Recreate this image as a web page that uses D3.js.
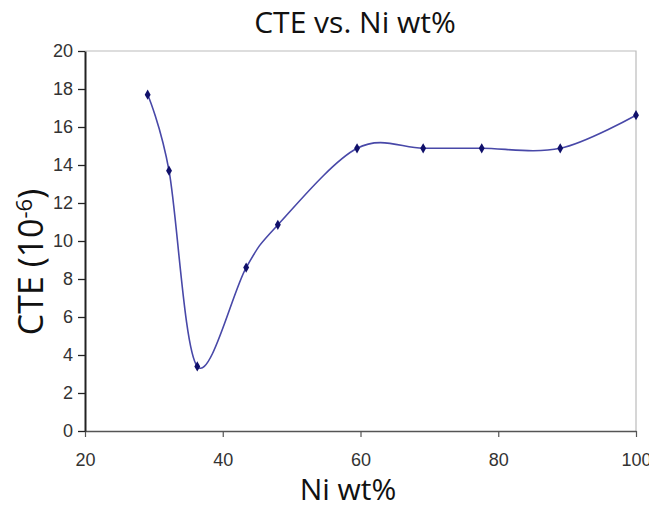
<!DOCTYPE html>
<html><head><meta charset="utf-8">
<script src="https://cdn.jsdelivr.net/npm/d3@7"></script>
<style>body{margin:0;background:#fff}svg{display:block}</style>
</head><body>
<svg id="c" width="649" height="508"></svg>
<script>
const niWt = [29.1, 32.2, 36.3, 43.4, 48.0, 59.5, 69.1, 77.6, 89.0, 100];
const cte  = [17.7, 13.7, 3.4, 8.6, 10.85, 14.88, 14.88, 14.88, 14.88, 16.62];
const xTicks = [20, 40, 60, 80, 100];
const yTicks = [0, 2, 4, 6, 8, 10, 12, 14, 16, 18, 20];
const title = "CTE vs. Ni wt%";
const xLabel = "Ni wt%";

const svg = d3.select("#c");
const L = 85, R = 636, T = 51, B = 431;
const x = d3.scaleLinear().domain([20, 100]).range([L, R]);
const y = d3.scaleLinear().domain([0, 20]).range([B, T]);

svg.append("path").attr("d", `M${L},${T}H${R}V${B}`).attr("fill","none").attr("stroke","#bbb").attr("stroke-width",1.2);

const gx = svg.append("g").attr("transform", `translate(0,${B})`)
  .call(d3.axisBottom(x).tickValues(xTicks).tickSize(6).tickSizeOuter(0).tickPadding(16));
gx.select(".domain").attr("stroke","#555").attr("stroke-width",1.5);
gx.selectAll(".tick line").attr("stroke","#555").attr("stroke-width",1.2);
gx.selectAll("text").attr("font-family","Liberation Sans, Arial, sans-serif").attr("font-size",18).attr("fill","#333");

const gy = svg.append("g").attr("transform", `translate(${L},0)`)
  .call(d3.axisLeft(y).tickValues(yTicks).tickSize(7).tickSizeOuter(0).tickPadding(5));
gy.select(".domain").attr("stroke","#222").attr("stroke-width",2);
gy.selectAll(".tick line").attr("stroke","#222").attr("stroke-width",1.3);
gy.selectAll("text").attr("font-family","Liberation Sans, Arial, sans-serif").attr("font-size",18).attr("fill","#333");

const pts = niWt.map((v,i)=>[v, cte[i]]);
const line = d3.line().x(d=>x(d[0])).y(d=>y(d[1])).curve(d3.curveCardinal.tension(0));
svg.append("path").datum(pts).attr("d", line).attr("fill","none").attr("stroke","#4848a8").attr("stroke-width",1.6);

svg.selectAll(".m").data(pts).enter().append("path")
  .attr("transform", d=>`translate(${x(d[0])},${y(d[1])})`)
  .attr("d", d3.symbol(d3.symbolDiamond, 30))
  .attr("fill","#10106a");

svg.append("text").attr("x",355).attr("y",33).attr("text-anchor","middle")
  .attr("font-family","Open Sans, Noto Sans, sans-serif").attr("font-size",30).attr("fill","#111").text(title);
svg.append("text").attr("x",348).attr("y",500).attr("text-anchor","middle")
  .attr("font-family","Open Sans, Noto Sans, sans-serif").attr("font-size",30).attr("fill","#111").text(xLabel);
const yl = svg.append("text").attr("transform","translate(43,262) rotate(-90)").attr("text-anchor","middle")
  .attr("font-family","Open Sans, Noto Sans, sans-serif").attr("font-size",34).attr("fill","#111");
yl.append("tspan").text("CTE (10");
yl.append("tspan").attr("dy",-11).attr("font-size",22).text("-6");
yl.append("tspan").attr("dy",11).text(")");
</script>
</body></html>
